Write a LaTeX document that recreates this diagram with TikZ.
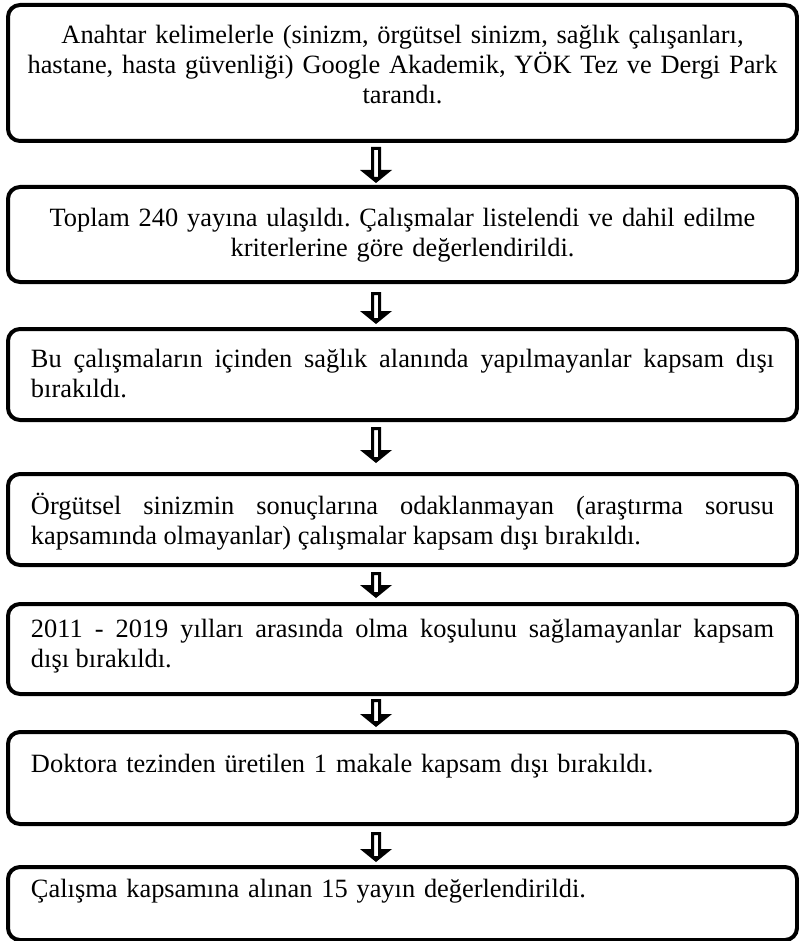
\documentclass[tikz,border=0pt]{standalone}
\usepackage{fontspec}
\setmainfont{Liberation Serif}
\usetikzlibrary{calc}
\frenchspacing

\begin{document}
\begin{tikzpicture}[x=0.5pt,y=-0.5pt,
	box/.style={draw,line width=2pt,rounded corners=6pt,anchor=north,text width=371.5pt,inner xsep=11.5pt,inner ysep=0pt,font=\fontsize{13.2pt}{15pt}\selectfont},
	arrowfill/.style={fill=black,even odd rule}]
		
		\useasboundingbox (0,0) rectangle (798,941);
		\coordinate (ax) at (376,0);
		
		\node[box,align=center,text width=385pt,inner xsep=4.75pt,text height=19.5pt,text depth=48.5pt] (b1) at (402.5,3) {Anahtar kelimelerle (sinizm, örgütsel sinizm, sağlık çalışanları,\\ hastane, hasta güvenliği) Google Akademik, YÖK Tez ve Dergi Park\\ tarandı.};
		\node[box,align=center,text width=385pt,inner xsep=4.75pt,text height=20pt,text depth=27.5pt] (b2) at (402.5,185) {Toplam 240 yayına ulaşıldı. Çalışmalar listelendi ve dahil edilme\\ kriterlerine göre değerlendirildi.};
		\node[box,align=justify,text height=19pt,text depth=26.5pt] (b3) at (402.5,327) {Bu çalışmaların içinden sağlık alanında yapılmayanlar kapsam dışı\linebreak bırakıldı.};
		\node[box,align=justify,text height=20pt,text depth=25.5pt] (b4) at (402.5,472) {Örgütsel sinizmin sonuçlarına odaklanmayan (araştırma sorusu\linebreak kapsamında olmayanlar) çalışmalar kapsam dışı bırakıldı.};
		\node[box,align=justify,text height=16.5pt,text depth=28.5pt] (b5) at (402.5,602) {2011 - 2019 yılları arasında olma koşulunu sağlamayanlar kapsam\linebreak dışı bırakıldı.};
		\node[box,align=left,text height=20pt,text depth=26pt] (b6) at (402.5,730) {Doktora tezinden üretilen 1 makale kapsam dışı bırakıldı.};
		\node[box,align=left,text height=15pt,text depth=21.5pt] (b7) at (402.5,865) {Çalışma kapsamına alınan 15 yayın değerlendirildi.};
		
		% hollow arrows between the boxes
		\fill[arrowfill] ($(b1.south -| ax)+(-5,4)$) -- ++(10,0) |- ($(b2.north -| ax)+(16,-15)$) -- ($(b2.north -| ax)+(0,-2)$) -- ++(-16,-13) -- ++(11,0) -- cycle ($(b1.south -| ax)+(-2,7)$) rectangle ($(b2.north -| ax)+(2,-8)$);
		\fill[arrowfill] ($(b2.south -| ax)+(-5,8)$) -- ++(10,0) |- ($(b3.north -| ax)+(16,-16)$) -- ($(b3.north -| ax)+(0,-3)$) -- ++(-16,-13) -- ++(11,0) -- cycle ($(b2.south -| ax)+(-2,11)$) rectangle ($(b3.north -| ax)+(2,-9)$);
		\fill[arrowfill] ($(b3.south -| ax)+(-5,5)$) -- ++(10,0) |- ($(b4.north -| ax)+(16,-22)$) -- ($(b4.north -| ax)+(0,-9)$) -- ++(-16,-13) -- ++(11,0) -- cycle ($(b3.south -| ax)+(-2,8)$) rectangle ($(b4.north -| ax)+(2,-15)$);
		\fill[arrowfill] ($(b4.south -| ax)+(-5,5)$) -- ++(10,0) |- ($(b5.north -| ax)+(16,-17)$) -- ($(b5.north -| ax)+(0,-4)$) -- ++(-16,-13) -- ++(11,0) -- cycle ($(b4.south -| ax)+(-2,8)$) rectangle ($(b5.north -| ax)+(2,-10)$);
		\fill[arrowfill] ($(b5.south -| ax)+(-5,3)$) -- ++(10,0) |- ($(b6.north -| ax)+(16,-16)$) -- ($(b6.north -| ax)+(0,-3)$) -- ++(-16,-13) -- ++(11,0) -- cycle ($(b5.south -| ax)+(-2,6)$) rectangle ($(b6.north -| ax)+(2,-9)$);
		\fill[arrowfill] ($(b6.south -| ax)+(-5,6)$) -- ++(10,0) |- ($(b7.north -| ax)+(16,-16)$) -- ($(b7.north -| ax)+(0,-3)$) -- ++(-16,-13) -- ++(11,0) -- cycle ($(b6.south -| ax)+(-2,9)$) rectangle ($(b7.north -| ax)+(2,-9)$);
		
\end{tikzpicture}
\end{document}
